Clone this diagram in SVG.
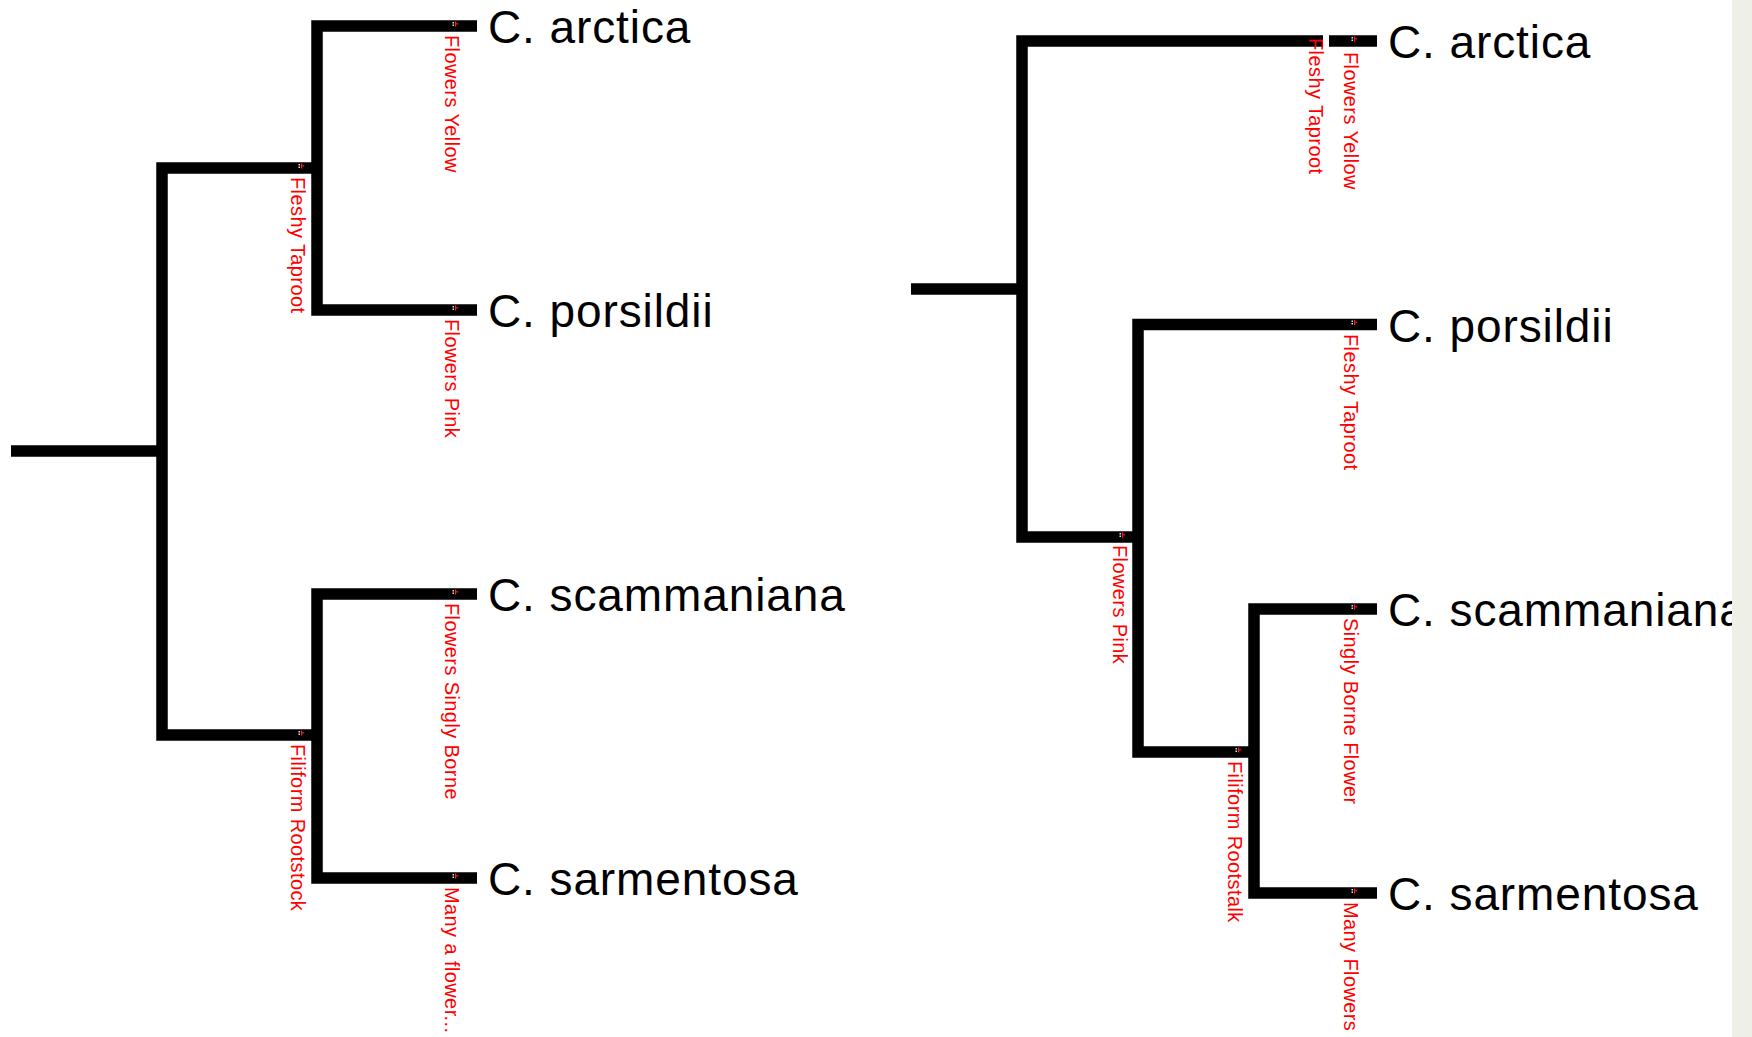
<svg xmlns="http://www.w3.org/2000/svg" width="1752" height="1037" viewBox="0 0 1752 1037">
<style>
.br{fill:none;stroke:#000;stroke-width:11.5;stroke-linecap:butt;stroke-linejoin:miter}
.sp{font-family:"Liberation Sans",Arial,sans-serif;font-size:46px;letter-spacing:0.9px;fill:#000}
.ch{font-family:"Liberation Sans",Arial,sans-serif;font-size:20px;letter-spacing:0.4px;fill:#ff0000}
</style>
<defs>
<g id="mk">
<rect x="0" y="0" width="7" height="6" fill="#000"/>
<rect x="0.5" y="1" width="1.5" height="1.5" fill="#ddd"/>
<rect x="0.5" y="3.5" width="1.5" height="1.5" fill="#ddd"/>
<rect x="3" y="0.5" width="1.2" height="5" fill="#ff2020"/>
<rect x="4.2" y="2.2" width="2" height="1.2" fill="#ff2020"/>
</g>
</defs>
<rect x="0" y="0" width="1752" height="1037" fill="#fff"/>

<g id="connectors">
  <!-- left tree -->
  <path class="br" d="M11,451 H162"/>
  <path class="br" d="M317,168 H162 V735 H317"/>
  <path class="br" d="M477,26 H317 V310 H477"/>
  <path class="br" d="M477,594 H317 V878 H477"/>
  <!-- right tree -->
  <path class="br" d="M911,289 H1022"/>
  <path class="br" d="M1377,41 H1022 V537 H1138"/>
  <path class="br" d="M1377,324.5 H1138 V752 H1254"/>
  <path class="br" d="M1377,609 H1254 V893 H1377"/>
  <rect x="1323" y="33" width="6" height="16" fill="#fff"/>

  <!-- markers -->
  <use href="#mk" x="452" y="21"/>
  <use href="#mk" x="452" y="305"/>
  <use href="#mk" x="452" y="589"/>
  <use href="#mk" x="452" y="873"/>
  <use href="#mk" x="298" y="163"/>
  <use href="#mk" x="298" y="730"/>
  <use href="#mk" x="1351" y="36"/>
  <use href="#mk" x="1351" y="319.5"/>
  <use href="#mk" x="1351" y="604"/>
  <use href="#mk" x="1351" y="888"/>
  <use href="#mk" x="1119" y="532"/>
  <use href="#mk" x="1235" y="747"/>

  <!-- character labels -->
  <text class="ch" transform="translate(445,35) rotate(90)">Flowers Yellow</text>
  <text class="ch" transform="translate(445,319) rotate(90)">Flowers Pink</text>
  <text class="ch" transform="translate(291,177) rotate(90)">Fleshy Taproot</text>
  <text class="ch" transform="translate(445,603) rotate(90)">Flowers Singly Borne</text>
  <text class="ch" transform="translate(291,744) rotate(90)">Filiform Rootstock</text>
  <text class="ch" transform="translate(445,887) rotate(90)">Many a flower...</text>

  <text class="ch" transform="translate(1309,38) rotate(90)">Fleshy Taproot</text>
  <text class="ch" transform="translate(1344,52) rotate(90)">Flowers Yellow</text>
  <text class="ch" transform="translate(1344,334) rotate(90)">Fleshy Taproot</text>
  <text class="ch" transform="translate(1113,545) rotate(90)">Flowers Pink</text>
  <text class="ch" transform="translate(1344,618) rotate(90)">Singly Borne Flower</text>
  <text class="ch" transform="translate(1228,761) rotate(90)">Filiform Rootstalk</text>
  <text class="ch" transform="translate(1344,902) rotate(90)">Many Flowers</text>
</g>

<g id="node-left-arctica"><text class="sp" x="488" y="43">C. arctica</text></g>
<g id="node-left-porsildii"><text class="sp" x="488" y="327">C. porsildii</text></g>
<g id="node-left-scammaniana"><text class="sp" x="488" y="611">C. scammaniana</text></g>
<g id="node-left-sarmentosa"><text class="sp" x="488" y="895">C. sarmentosa</text></g>

<g id="node-right-arctica"><text class="sp" x="1388" y="58">C. arctica</text></g>
<g id="node-right-porsildii"><text class="sp" x="1388" y="342">C. porsildii</text></g>
<g id="node-right-scammaniana"><text class="sp" x="1388" y="626">C. scammaniana</text></g>
<g id="node-right-sarmentosa"><text class="sp" x="1388" y="910">C. sarmentosa</text></g>

<rect x="1732" y="0" width="20" height="1037" fill="#eef0e8"/>
</svg>
